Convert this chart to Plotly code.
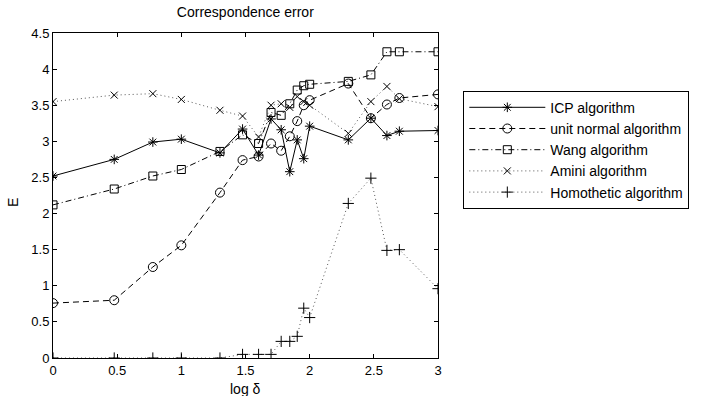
import plotly.graph_objects as go

x_log_delta = [0, 0.477, 0.778, 1.0, 1.301, 1.477, 1.602, 1.699, 1.778, 1.845, 1.903, 1.954, 2.0, 2.301, 2.477, 2.602, 2.699, 3.0]

icp = [2.52, 2.75, 2.99, 3.03, 2.84, 3.17, 2.81, 3.31, 3.16, 2.58, 3.02, 2.76, 3.21, 3.02, 3.32, 3.08, 3.14, 3.15]
unit_normal = [0.76, 0.80, 1.26, 1.56, 2.29, 2.74, 2.79, 2.97, 2.87, 3.07, 3.28, 3.50, 3.57, 3.80, 3.32, 3.51, 3.60, 3.65]
wang = [2.12, 2.34, 2.52, 2.61, 2.86, 3.09, 2.97, 3.40, 3.36, 3.52, 3.71, 3.77, 3.79, 3.83, 3.92, 4.24, 4.24, 4.24]
amini = [3.55, 3.64, 3.66, 3.58, 3.43, 3.35, 3.06, 3.50, 3.52, 3.47, 3.62, 3.55, 3.50, 3.11, 3.55, 3.76, 3.59, 3.48]
homothetic = [0, 0, 0, 0, 0, 0.05, 0.05, 0.05, 0.23, 0.23, 0.30, 0.69, 0.56, 2.14, 2.49, 1.49, 1.50, 0.96]

names = ["ICP algorithm", "unit normal algorithm", "Wang algorithm", "Amini algorithm", "Homothetic algorithm"]
x_ticks = [0, 0.5, 1, 1.5, 2, 2.5, 3]
y_ticks = [0, 0.5, 1, 1.5, 2, 2.5, 3, 3.5, 4, 4.5]

series = [icp, unit_normal, wang, amini, homothetic]
symbols = ["asterisk-open", "circle-open", "square-open", "x-thin-open", "cross-thin-open"]
sizes = [8, 9, 8, 7, 8]
dashes = ["solid", "6px,4px", "6px,3px,1px,3px", "1px,3px", "1px,3px"]
lcolors = ["black", "black", "black", "#555", "#555"]

FONT = "Liberation Sans, Arial, Helvetica, sans-serif"

fig = go.Figure()
for ys, nm, sym, sz, ds, lc in zip(series, names, symbols, sizes, dashes, lcolors):
    fig.add_trace(go.Scatter(
        x=x_log_delta, y=ys, name=nm, mode="lines+markers",
        line=dict(color=lc, width=1, dash=ds),
        marker=dict(symbol=sym, size=sz, color="black", line=dict(color="black", width=1)),
    ))

axis_common = dict(
    showline=True, linecolor="black", linewidth=1, mirror="ticks",
    ticks="inside", ticklen=4, tickcolor="black", showgrid=False, zeroline=False,
    automargin=False,
    tickfont=dict(family=FONT, size=13, color="black"),
)

fig.update_layout(
    width=705, height=396,
    margin=dict(l=53, r=267, t=33, b=38),
    paper_bgcolor="white", plot_bgcolor="white",
    title=dict(text="Correspondence error", x=(53 + 437.7) / 2 / 705, xanchor="center",
               y=1 - 12 / 396, yanchor="middle",
               font=dict(family=FONT, size=14, color="black")),
    xaxis=dict(range=[0, 3], tickvals=x_ticks, ticktext=[str(t) for t in x_ticks], **axis_common),
    yaxis=dict(range=[0, 4.5], tickvals=y_ticks, ticktext=[f"{t:g}" for t in y_ticks], **axis_common),
    legend=dict(x=(463 - 53) / 384.7, y=(358.3 - 91) / 325, xanchor="left", yanchor="top",
                bordercolor="black", borderwidth=1, bgcolor="white",
                font=dict(family=FONT, size=14, color="black"),
                tracegroupgap=0, itemwidth=76),
    showlegend=True,
    annotations=[
        dict(text="log δ", xref="paper", yref="paper", x=0.5, y=-31 / 325, xanchor="center",
             yanchor="middle", showarrow=False, font=dict(family=FONT, size=14, color="black")),
        dict(text="E", xref="paper", yref="paper", x=-40 / 384.7, y=0.48, xanchor="center",
             yanchor="middle", textangle=-90, showarrow=False,
             font=dict(family=FONT, size=14, color="black")),
    ],
)

fig.write_html("out.html", config={"displayModeBar": False},
               post_script="document.body.style.margin='0';document.body.style.overflow='hidden';")
